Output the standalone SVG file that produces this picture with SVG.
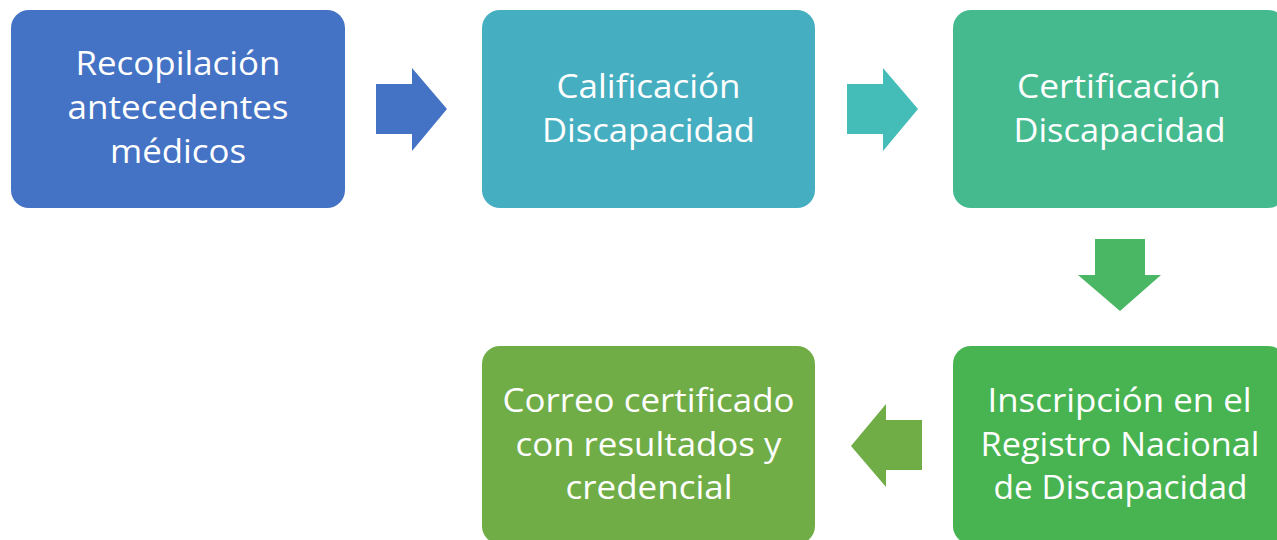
<svg xmlns="http://www.w3.org/2000/svg" width="1277" height="540" viewBox="0 0 1277 540">
<style>
.box{rx:18px;ry:18px}
.t{font-family:"Open Sans","Noto Sans","Liberation Sans",sans-serif;font-size:33px;fill:#ffffff;text-anchor:middle}
</style>
<rect width="1277" height="540" fill="#ffffff"/>
<g id="connectors">
<polygon points="376,84 412,84 412,68 447,109 412,151 412,134 376,134" fill="#4472C4"/>
<polygon points="847,84 883,84 883,68 918,109 883,151 883,134 847,134" fill="#44BDB9"/>
<polygon points="1095,239 1145,239 1145,275 1161,275 1120,311 1078,275 1095,275" fill="#49B764"/>
<polygon points="922,420 886,420 886,404 851,446 886,487 886,470 922,470" fill="#70AD47"/>
</g>
<g id="n1">
<rect class="box" x="11" y="10" width="334" height="198" fill="#4472C4"/>
<text class="t" x="178" y="75" textLength="205" lengthAdjust="spacingAndGlyphs">Recopilación</text>
<text class="t" x="178" y="119" textLength="221" lengthAdjust="spacingAndGlyphs">antecedentes</text>
<text class="t" x="178" y="163" textLength="136" lengthAdjust="spacingAndGlyphs">médicos</text>
</g>
<g id="n2">
<rect class="box" x="482" y="10" width="333" height="198" fill="#45AEC0"/>
<text class="t" x="648.5" y="98" textLength="184" lengthAdjust="spacingAndGlyphs">Calificación</text>
<text class="t" x="648.5" y="142" textLength="213" lengthAdjust="spacingAndGlyphs">Discapacidad</text>
</g>
<g id="n3">
<rect class="box" x="953" y="10" width="333" height="198" fill="#45BA8F"/>
<text class="t" x="1119" y="98" textLength="204" lengthAdjust="spacingAndGlyphs">Certificación</text>
<text class="t" x="1119.5" y="142" textLength="212" lengthAdjust="spacingAndGlyphs">Discapacidad</text>
</g>
<g id="n4">
<rect class="box" x="953" y="346" width="333" height="198" fill="#48B351"/>
<text class="t" x="1119.5" y="412" textLength="264" lengthAdjust="spacingAndGlyphs">Inscripción en el</text>
<text class="t" x="1120" y="455.5" textLength="279" lengthAdjust="spacingAndGlyphs">Registro Nacional</text>
<text class="t" x="1120.5" y="499" textLength="254" lengthAdjust="spacingAndGlyphs">de Discapacidad</text>
</g>
<g id="n5">
<rect class="box" x="482" y="346" width="333" height="198" fill="#70AD47"/>
<text class="t" x="648.5" y="412" textLength="292" lengthAdjust="spacingAndGlyphs">Correo certificado</text>
<text class="t" x="648.5" y="455.5" textLength="266" lengthAdjust="spacingAndGlyphs">con resultados y</text>
<text class="t" x="649" y="499" textLength="167" lengthAdjust="spacingAndGlyphs">credencial</text>
</g>
</svg>
